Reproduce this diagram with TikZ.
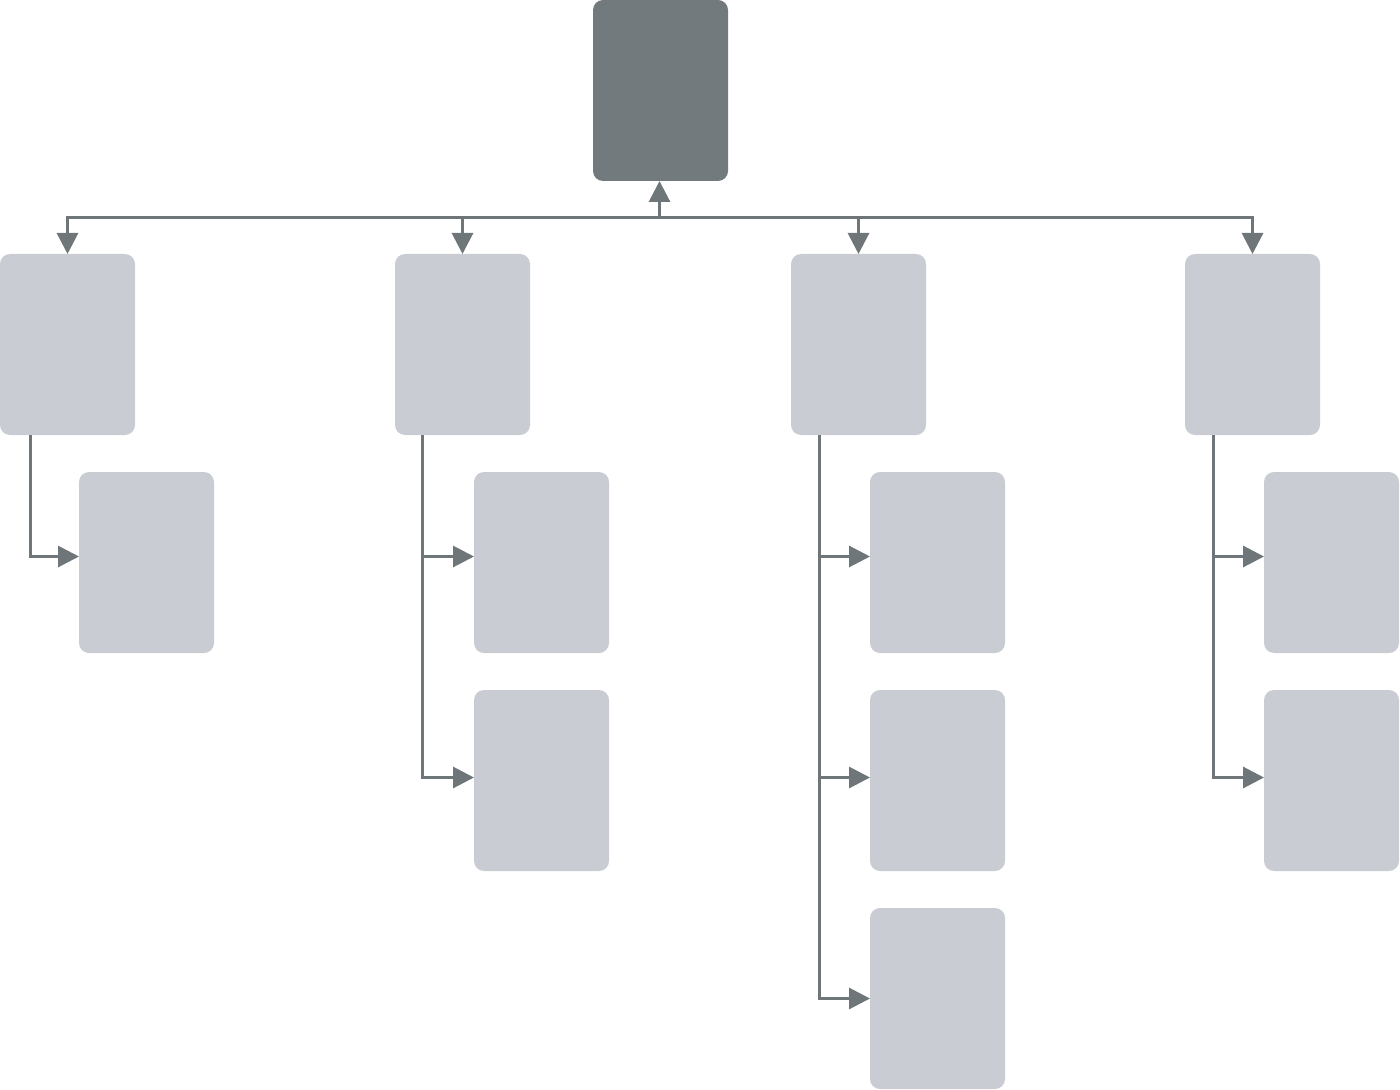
\documentclass[tikz,border=0pt]{standalone}
\usepackage{xcolor}
\usepackage{tikz}
\usetikzlibrary{arrows.meta,positioning}
\definecolor{rootgray}{HTML}{737A7D}
\definecolor{leafgray}{HTML}{C9CCD3}
\definecolor{linegray}{HTML}{6E767A}

\begin{document}
\begin{tikzpicture}[
  x=0.5pt, y=0.5pt,
  node distance=18.5pt,
  box/.style={rounded corners=5pt, minimum width=67.5pt, minimum height=90.5pt,
              inner sep=0pt, outer sep=0pt},
  root/.style={box, fill=rootgray},
  leaf/.style={box, fill=leafgray},
  arr/.style={-{Triangle[length=10.5pt, width=10.5pt]}, linegray, line width=1.5pt}
]
\useasboundingbox (0,0) rectangle (1400,1089);
\node[root] (top) at (660.5,998.5) {};
\node[leaf] (a1) at (67.5,744.5) {};
\node[leaf] (a2) at (462.5,744.5) {};
\node[leaf] (a3) at (858.5,744.5) {};
\node[leaf] (a4) at (1252.5,744.5) {};
\node[leaf, below=of a1, xshift=39.5pt] (b1) {};
\node[leaf, below=of a2, xshift=39.5pt] (b2) {};
\node[leaf, below=of b2] (c2) {};
\node[leaf, below=of a3, xshift=39.5pt] (b3) {};
\node[leaf, below=of b3] (c3) {};
\node[leaf, below=of c3] (d3) {};
\node[leaf, below=of a4, xshift=39.5pt] (b4) {};
\node[leaf, below=of b4] (c4) {};
\coordinate (bus) at (659.5,871);
\draw[arr] (bus) -- (bus |- top.south);
\draw[arr] (bus) -| (a1); \draw[arr] (bus) -| (a2);
\draw[arr] (bus) -| (a3); \draw[arr] (bus) -| (a4);
\draw[arr] ([xshift=15pt]a1.south west) |- ([yshift=3pt]b1.west);
\draw[arr] ([xshift=13.5pt]a2.south west) |- ([yshift=3pt]b2.west);
\draw[arr] ([xshift=13.5pt]a2.south west) |- ([yshift=1.5pt]c2.west);
\draw[arr] ([xshift=14pt]a3.south west) |- ([yshift=3pt]b3.west);
\draw[arr] ([xshift=14pt]a3.south west) |- ([yshift=1.5pt]c3.west);
\draw[arr] ([xshift=14pt]a3.south west) |- (d3);
\draw[arr] ([xshift=14pt]a4.south west) |- ([yshift=3pt]b4.west);
\draw[arr] ([xshift=14pt]a4.south west) |- ([yshift=1.5pt]c4.west);
\end{tikzpicture}
\end{document}
